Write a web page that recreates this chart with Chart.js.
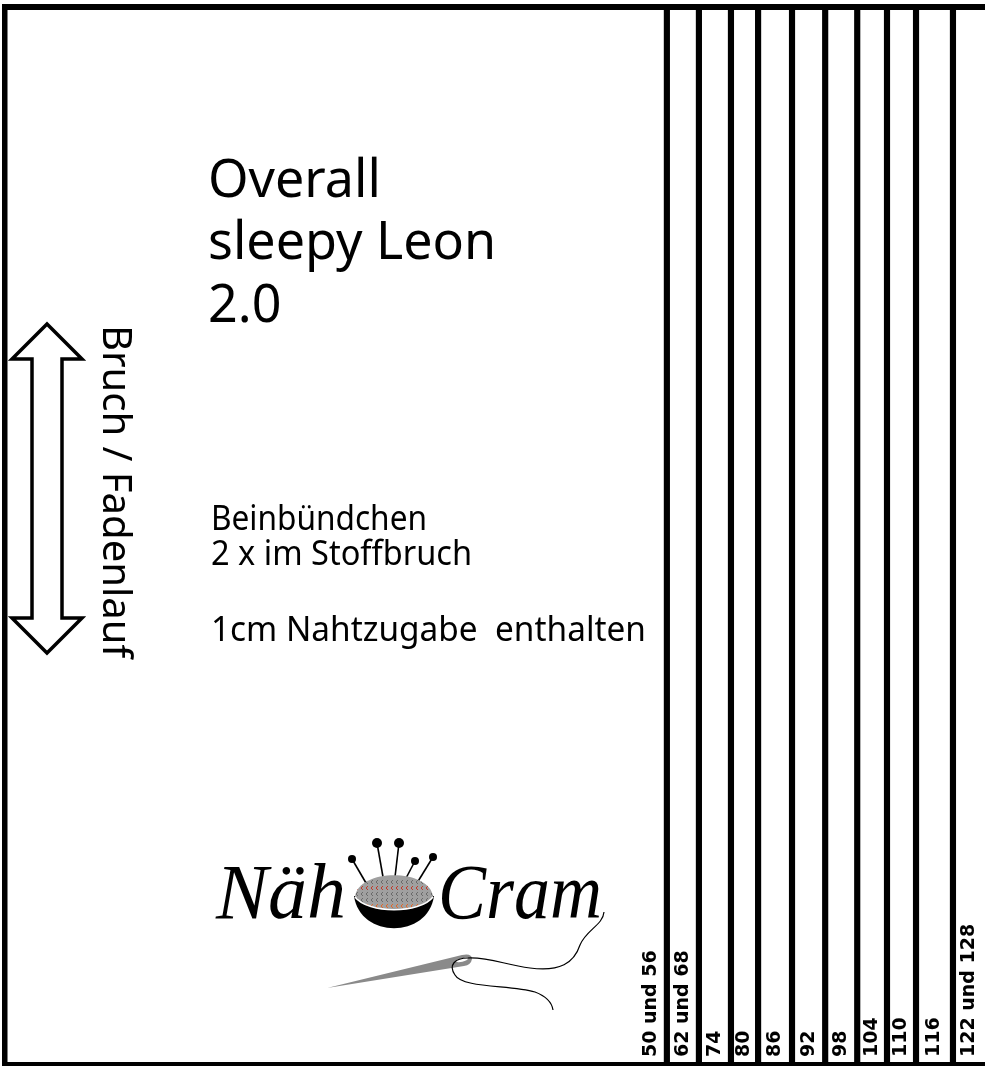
<!DOCTYPE html>
<html>
<head>
<meta charset="utf-8">
<script src="https://cdn.jsdelivr.net/npm/chart.js@4.4.1/dist/chart.umd.min.js"></script>
<style>
body { margin: 0; background: #fff; }
#wrap { width: 985px; height: 1066px; }
</style>
</head>
<body>
<div id="wrap"><canvas id="schnitt" width="985" height="1066"></canvas></div>
<script>
// Größen und Schnittlinien (Abstand vom Bruch in mm)
const groessen = ['50 und 56', '62 und 68', '74', '80', '86', '92', '98', '104', '110', '116', '122 und 128'];
const schnittLinie = [175.6, 184.1, 192.6, 199.8, 208.8, 217.6, 226.1, 234.0, 241.7, 251.5, 262];
const musterBreite = 260;   // sichtbarer Bereich in mm
const musterLaenge = 280;   // Länge des Bündchens in mm
const titelZeilen = ['Overall', 'sleepy Leon', '2.0'];
const hinweisZeilen = ['Beinbündchen', '2 x im Stoffbruch', '1cm Nahtzugabe  enthalten'];
const bruchText = 'Bruch / Fadenlauf';
const logoText = ['Näh', 'Cram'];

// Pfeil, Logo und Beschriftung kommen per Plugin dazu
const musterDeko = {
    id: 'musterDeko',
    afterDatasetsDraw(chart) {
        const ctx = chart.ctx;
        const xs = chart.scales.x;
        ctx.save();
        ctx.fillStyle = '#000';
        ctx.textBaseline = 'alphabetic';

        // Titel
        ctx.font = '52px "Noto Sans"';
        const titelY = [197, 259, 322];
        titelZeilen.forEach((t, i) => ctx.fillText(t, 208, titelY[i]));

        // Hinweise
        ctx.font = '34px "Noto Sans"';
        const hinweisY = [530, 565, 641];
        const hinweisW = [216, 261, 435];
        hinweisZeilen.forEach((t, i) => ctx.fillText(t, 211, hinweisY[i], hinweisW[i]));

        // Größen an den Schnittlinien
        ctx.font = 'bold 19px "DejaVu Sans"';
        groessen.forEach((g, i) => {
            const rechts = Math.min(schnittLinie[i], musterBreite);
            const links = i ? schnittLinie[i - 1] : schnittLinie[0] - (schnittLinie[1] - schnittLinie[0]);
            const mitte = (xs.getPixelForValue(links) + xs.getPixelForValue(rechts)) / 2;
            ctx.save();
            ctx.translate(mitte - 1, 1057);
            ctx.rotate(-Math.PI / 2);
            ctx.textBaseline = 'middle';
            ctx.fillText(g, 0, 1);
            ctx.restore();
        });

        // Bruch / Fadenlauf
        ctx.save();
        ctx.font = '40px "Noto Sans"';
        ctx.translate(103, 325);
        ctx.rotate(Math.PI / 2);
        ctx.fillText(bruchText, 0, 0);
        ctx.restore();

        // Doppelpfeil
        ctx.beginPath();
        const pfeil = [[47, 324], [82, 359], [62, 359], [62, 618], [82, 618], [47, 653],
                       [12, 618], [32, 618], [32, 359], [12, 359]];
        pfeil.forEach((p, i) => i ? ctx.lineTo(p[0], p[1]) : ctx.moveTo(p[0], p[1]));
        ctx.closePath();
        ctx.fillStyle = '#fff';
        ctx.fill();
        ctx.lineWidth = 3.5;
        ctx.lineJoin = 'miter';
        ctx.strokeStyle = '#000';
        ctx.stroke();

        // Logo
        ctx.fillStyle = '#000';
        ctx.font = 'italic 78px "Liberation Serif"';
        ctx.fillText(logoText[0], 216, 918, 132);
        ctx.fillText(logoText[1], 438, 918, 164);

        // Nadeln
        const nadeln = [[352, 859, 366, 883, 4], [377, 843, 383, 877, 5], [399, 843, 395, 877, 5],
                        [415, 861, 404, 882, 4], [433, 857, 417, 883, 4]];
        ctx.lineWidth = 1.6;
        nadeln.forEach(n => {
            ctx.beginPath();
            ctx.moveTo(n[0], n[1]);
            ctx.lineTo(n[2], n[3]);
            ctx.stroke();
            ctx.beginPath();
            ctx.arc(n[0], n[1], n[4], 0, Math.PI * 2);
            ctx.fill();
        });

        // Nadelkissen: Schale
        ctx.beginPath();
        ctx.moveTo(354, 896);
        ctx.bezierCurveTo(360, 939, 428, 939, 434, 896);
        ctx.closePath();
        ctx.fill();

        // Nadelkissen: Kissen
        ctx.beginPath();
        ctx.moveTo(355, 897);
        ctx.bezierCurveTo(358, 868, 430, 868, 433, 897);
        ctx.bezierCurveTo(420, 914, 368, 914, 355, 897);
        ctx.closePath();
        ctx.fillStyle = '#a0a0a0';
        ctx.fill();
        ctx.save();
        ctx.clip();
        const reihen = [[882, '#6a6a6a'], [888, '#c0392b'], [894, '#6a6a6a'], [900, '#6a6a6a'], [906, '#e0672a']];
        ctx.lineWidth = 1;
        reihen.forEach(r => {
            ctx.strokeStyle = r[1];
            ctx.beginPath();
            for (let x = 356; x < 434; x += 5) {
                ctx.moveTo(x + 2, r[0] - 2);
                ctx.lineTo(x, r[0]);
                ctx.lineTo(x + 2, r[0] + 2);
            }
            ctx.stroke();
        });
        ctx.restore();
        ctx.beginPath();
        ctx.moveTo(433, 897);
        ctx.bezierCurveTo(420, 914, 368, 914, 355, 897);
        ctx.strokeStyle = '#fff';
        ctx.lineWidth = 1.5;
        ctx.stroke();

        // Nähnadel
        ctx.beginPath();
        ctx.moveTo(327, 988);
        ctx.lineTo(462, 955);
        ctx.quadraticCurveTo(472, 953, 472, 959);
        ctx.quadraticCurveTo(471, 965, 464, 966);
        ctx.closePath();
        ctx.fillStyle = '#8a8a8a';
        ctx.fill();
        ctx.save();
        ctx.translate(462, 960);
        ctx.rotate(-0.22);
        ctx.beginPath();
        ctx.ellipse(0, 0, 6, 1.8, 0, 0, Math.PI * 2);
        ctx.fillStyle = '#fff';
        ctx.fill();
        ctx.restore();

        // Faden
        ctx.beginPath();
        ctx.moveTo(604, 912);
        ctx.bezierCurveTo(603, 925, 586, 930, 580, 945);
        ctx.bezierCurveTo(574, 963, 560, 972, 530, 968);
        ctx.bezierCurveTo(505, 965, 490, 957, 468, 958);
        ctx.bezierCurveTo(455, 958, 448, 965, 455, 975);
        ctx.bezierCurveTo(462, 988, 510, 985, 535, 992);
        ctx.bezierCurveTo(548, 997, 552, 1003, 553, 1010);
        ctx.strokeStyle = '#000';
        ctx.lineWidth = 1.2;
        ctx.stroke();

        ctx.restore();
    }
};

const ctx = document.getElementById('schnitt').getContext('2d');
new Chart(ctx, {
    type: 'bar',
    data: {
        datasets: [{
            label: 'Schnittlinie',
            // die letzte Linie liegt außerhalb des Blattes
            data: schnittLinie.filter(v => v < musterBreite).map(v => ({ x: v, y: musterLaenge })),
            backgroundColor: '#000',
            borderWidth: 0,
            barThickness: 5.5
        }]
    },
    options: {
        responsive: false,
        animation: false,
        layout: { padding: { left: 5, top: 7, right: 0, bottom: 1 } },
        plugins: { legend: { display: false }, tooltip: { enabled: false } },
        scales: {
            x: {
                type: 'linear', min: 0, max: musterBreite, offset: false,
                ticks: { display: false },
                grid: { display: false, drawTicks: false },
                border: { display: true, color: '#000', width: 6 }
            },
            xOben: {
                type: 'linear', position: 'top', min: 0, max: musterBreite, offset: false,
                ticks: { display: false },
                grid: { display: false, drawTicks: false },
                border: { display: true, color: '#000', width: 6 }
            },
            y: {
                min: 0, max: musterLaenge,
                ticks: { display: false },
                grid: { display: false, drawTicks: false },
                border: { display: true, color: '#000', width: 5.5 }
            }
        }
    },
    plugins: [musterDeko]
});
</script>
</body>
</html>
